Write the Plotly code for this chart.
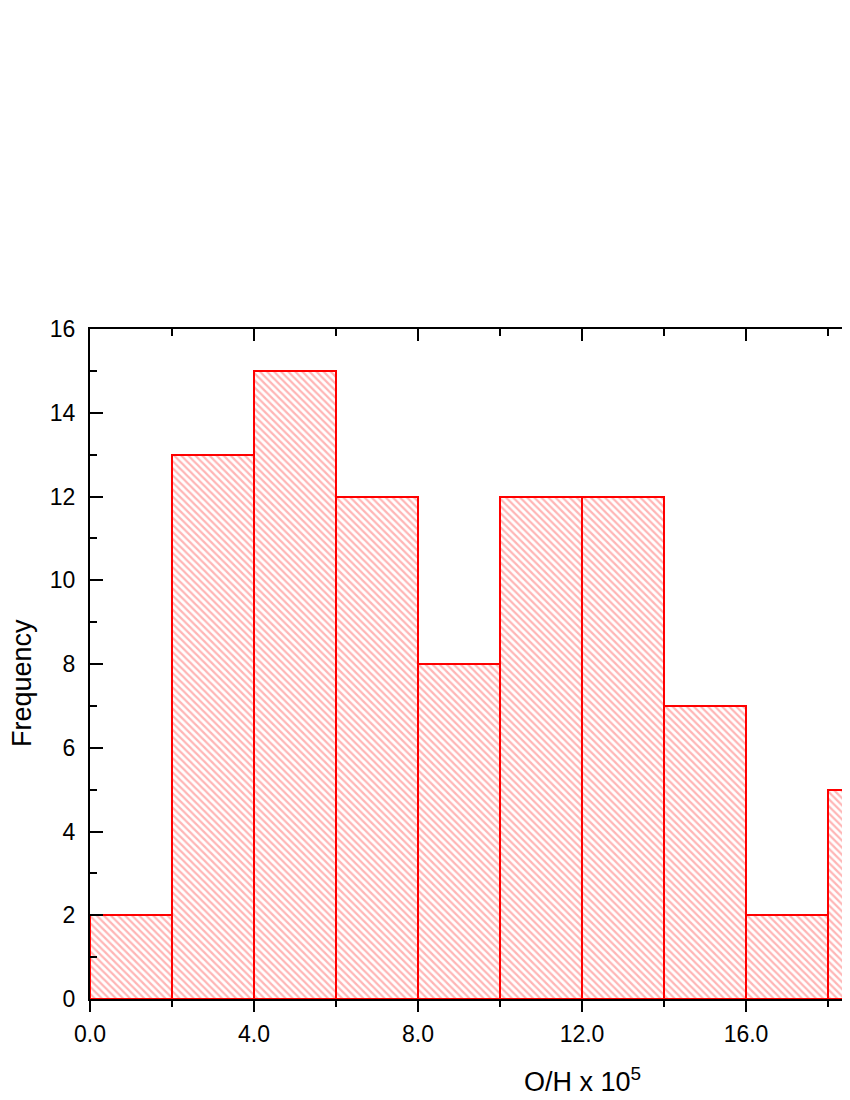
import plotly.graph_objects as go

bin_starts = [0, 2, 4, 6, 8, 10, 12, 14, 16, 18]
bin_width = 2
counts = [2, 13, 15, 12, 8, 12, 12, 7, 2, 5]

centers = [s + bin_width / 2 for s in bin_starts]

fig = go.Figure()
fig.add_trace(go.Bar(
    x=centers, y=counts, width=[bin_width] * len(counts),
    marker=dict(
        color="white",
        line=dict(color="#FF0000", width=2),
        pattern=dict(shape="\\", fgcolor="rgba(255,70,70,0.8)", bgcolor="white",
                     size=5, solidity=0.45),
    ),
    showlegend=False, hoverinfo="skip",
))
# invisible trace to hold the top axis
fig.add_trace(go.Scatter(x=[1], y=[1], xaxis="x2", yaxis="y", mode="markers",
                         marker=dict(opacity=0), showlegend=False, hoverinfo="skip"))

font = "Liberation Sans, Arial, sans-serif"
# page has an 8px body margin; plot area spans page x 90..850+, y 329..999
L, T, PW, PH = 82, 321, 776, 670
W = L + PW
H = 1092
xr = [0, PW / 41.0]

fig.update_layout(
    width=W, height=H,
    margin=dict(l=L, r=0, t=T, b=H - T - PH),
    paper_bgcolor="white", plot_bgcolor="white",
    font=dict(family=font, size=23, color="black"),
    bargap=0,
    xaxis=dict(
        range=xr, showgrid=False, zeroline=False,
        showline=True, linecolor="black", linewidth=2,
        ticks="outside", ticklen=11, tickwidth=2, tickcolor="black",
        tick0=0, dtick=4, tickformat=".1f",
        minor=dict(ticks="outside", ticklen=6, tickwidth=2, tickcolor="black", tick0=0, dtick=2),
        tickfont=dict(size=23),
        ticklabelstandoff=2,
    ),
    xaxis2=dict(
        range=xr, overlaying="x", side="top", anchor="y",
        showgrid=False, zeroline=False, showticklabels=False,
        showline=True, linecolor="black", linewidth=2,
        ticks="inside", ticklen=12, tickwidth=2, tickcolor="black",
        tick0=0, dtick=4,
        minor=dict(ticks="inside", ticklen=7, tickwidth=2, tickcolor="black", tick0=0, dtick=2),
    ),
    yaxis=dict(
        range=[0, 16], showgrid=False, zeroline=False,
        showline=True, linecolor="black", linewidth=2,
        ticks="inside", ticklen=13, tickwidth=2, tickcolor="black",
        tick0=0, dtick=2,
        minor=dict(ticks="inside", ticklen=7, tickwidth=2, tickcolor="black", tick0=0, dtick=1),
        tickfont=dict(size=23),
        ticklabelstandoff=8,
    ),
    annotations=[
        dict(text="O/H x 10<sup>5</sup>", xref="paper", yref="paper",
             x=(582 - 8 - L) / PW, y=0, xanchor="center", yanchor="middle",
             yshift=-(1080 - 999), showarrow=False, font=dict(size=27)),
        dict(text="Frequency", xref="paper", yref="paper", textangle=-90,
             x=0, y=(999 - 683) / PH, xanchor="center", yanchor="middle",
             xshift=-(90 - 22), showarrow=False, font=dict(size=27)),
    ],
)

fig.write_html("out.html")
